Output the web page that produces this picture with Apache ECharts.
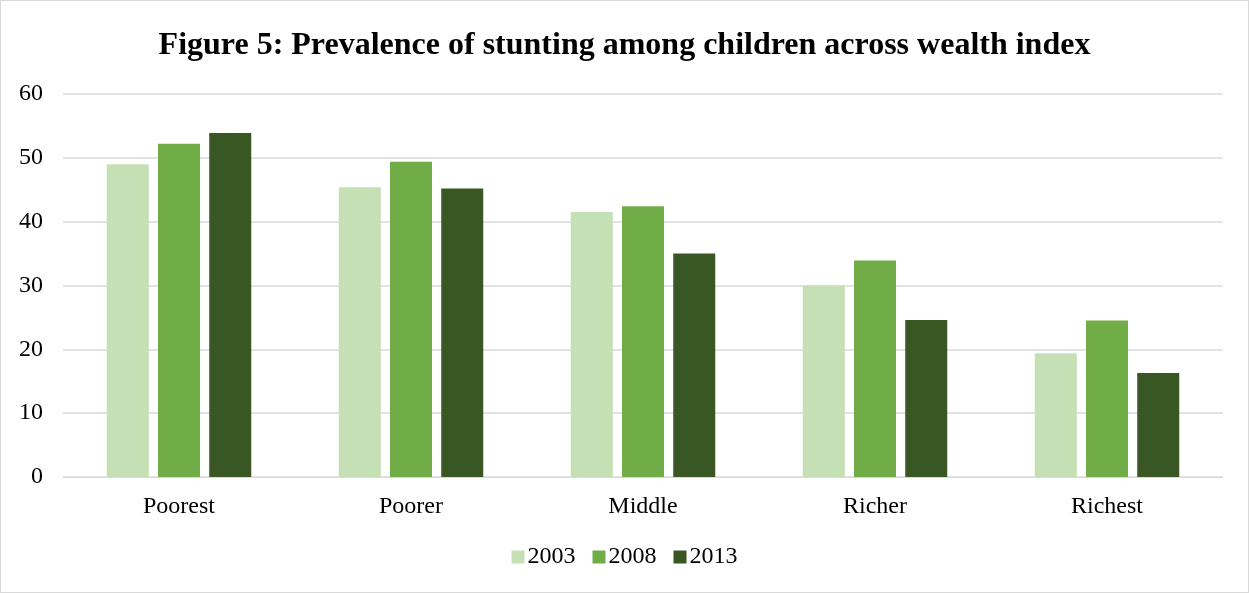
<!DOCTYPE html>
<html lang="en">
<head>
    <meta charset="UTF-8">
    <title>Figure 5</title>
    <script src="https://cdn.jsdelivr.net/npm/echarts@6/dist/echarts.min.js"></script>
    <style>
        html, body { margin: 0; padding: 0; background: #fff; }
        #main { width: 1247px; height: 591px; border: 1px solid #d9d9d9; }
    </style>
</head>
<body>
<div id="main"></div>
<script type="text/javascript">
    var categories = ['Poorest', 'Poorer', 'Middle', 'Richer', 'Richest'];
    var years = ['2003', '2008', '2013'];
    var v2003 = [49.0, 45.4, 41.5, 30.0, 19.4];
    var v2008 = [52.2, 49.4, 42.4, 33.9, 24.5];
    var v2013 = [53.9, 45.2, 35.0, 24.6, 16.3];
    var colors = ['#C5E0B4', '#70AD47', '#385723'];
    var font = '"Liberation Serif", "Times New Roman", serif';

    var myChart = echarts.init(document.getElementById('main'));
    var option = {
        color: colors,
        animation: false,
        title: {
            text: 'Figure 5: Prevalence of stunting among children across wealth index',
            left: 'center',
            top: 24,
            textStyle: { fontFamily: font, fontSize: 32, fontWeight: 'bold', color: '#000' }
        },
        legend: {
            bottom: 18,
            left: 'center',
            itemWidth: 13,
            itemHeight: 13,
            itemGap: 17,
            icon: 'rect',
            textStyle: { fontFamily: font, fontSize: 24, color: '#000', padding: [0, 0, 0, -2] },
            data: years
        },
        grid: { left: 62, right: 25, top: 93, bottom: 115 },
        xAxis: {
            type: 'category',
            data: categories,
            axisLine: { lineStyle: { color: '#d9d9d9', width: 1 } },
            axisTick: { show: false },
            axisLabel: { fontFamily: font, fontSize: 24, color: '#000', margin: 18 }
        },
        yAxis: {
            type: 'value',
            min: 0,
            max: 60,
            interval: 10,
            axisLine: { show: false },
            axisTick: { show: false },
            splitLine: { lineStyle: { color: '#d9d9d9', width: 1.5 } },
            axisLabel: { fontFamily: font, fontSize: 24, color: '#000', margin: 20 }
        },
        series: [
            { name: years[0], type: 'bar', data: v2003, barWidth: 42, barGap: '22%' },
            { name: years[1], type: 'bar', data: v2008, barWidth: 42, barGap: '22%' },
            { name: years[2], type: 'bar', data: v2013, barWidth: 42, barGap: '22%' }
        ]
    };
    myChart.setOption(option);
</script>
</body>
</html>
